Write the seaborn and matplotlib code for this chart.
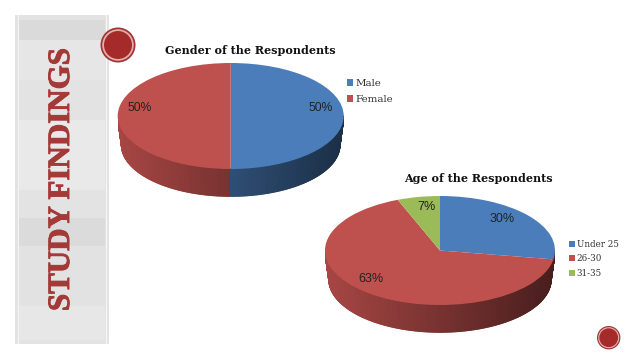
import numpy as np
import seaborn as sns
import matplotlib.pyplot as plt
import matplotlib.patheffects as pe
from matplotlib.collections import PolyCollection
from matplotlib.patches import Circle, Rectangle

# values
gender_labels = ['Male', 'Female']
gender_shares = [50, 50]
gender_pct = ['50%', '50%']

age_labels = ['Under 25', '26-30', '31-35']
# slice sizes as they look in the picture, the printed labels are in age_pct
age_shares = [27.6, 66.4, 6.0]
age_pct = ['30%', '63%', '7%']

W, H = 638, 359
sns.set_theme(style='white')
plt.rcParams['font.family'] = ['DejaVu Serif']
palette = sns.color_palette(['#4a7dba', '#be504d', '#9bbb59'])

fig = plt.figure(figsize=(W / 100, H / 100), dpi=100, facecolor='white')

# background in pixel coords
bg = fig.add_axes([0, 0, 1, 1])
bg.set_xlim(0, W)
bg.set_ylim(H, 0)
bg.axis('off')

bg.add_patch(Rectangle((15, 15), 94, 329, color='#e3e3e3', lw=0))
for y0, h, c in [(20, 20, '#dadada'), (40, 40, '#e6e6e6'), (120, 70, '#e9e9e9'),
                 (218, 28, '#dbdbdb'), (246, 60, '#e2e2e2'), (306, 34, '#e7e7e7')]:
    bg.add_patch(Rectangle((19, y0), 86, h, color=c, lw=0))
bg.add_patch(Rectangle((105.5, 15), 1, 329, color='#f7f7f7', lw=0))
bg.add_patch(Rectangle((17.5, 15), 1, 329, color='#f4f4f4', lw=0))
bg.text(61.5, 179.5, 'STUDY FINDINGS', rotation=90, ha='center', va='center',
        family='Liberation Serif', weight='bold', fontsize=22.3, color='#a33a38',
        path_effects=[pe.withStroke(linewidth=0.7, foreground='#a33a38')])


def seal(x, y, r):
    bg.add_patch(Circle((x, y), r, color='#a03434', lw=0))
    bg.add_patch(Circle((x, y), r * 0.9, color='#e2b0ac', lw=0))
    bg.add_patch(Circle((x, y), r * 0.8, color='#a52b2b', lw=0))


seal(118, 45, 17.5)
seal(608.7, 337.7, 11.7)


def pie3d(shares, cx, cy, rx, ry, depth, hide_first=False):
    bottom = depth + ry
    ax = fig.add_axes([(cx - rx) / W, 1 - (cy + bottom + 1) / H, 2 * rx / W, (ry + bottom + 1) / H])
    wedges, _ = ax.pie(shares, colors=palette, startangle=90, counterclock=False,
                       radius=1, wedgeprops={'linewidth': 0})
    ax.set_aspect('auto')
    ax.set_xlim(-1, 1)
    ax.set_ylim(-(bottom + 1) / ry, 1)

    # side wall, thin quads shaded from left to right
    edges = np.cumsum(shares) / np.sum(shares) * 360
    t = np.linspace(180, 360, 241)
    quads, cols = [], []
    scale = 0.965
    for a, b in zip(t[:-1], t[1:]):
        ra, rb = np.radians(a), np.radians(b)
        xa, xb = np.cos(ra), np.cos(rb)
        ya, yb = np.sin(ra), np.sin(rb)
        off = depth / ry
        quads.append([(xa, ya), (xb, yb), (xb * scale, yb * scale - off), (xa * scale, ya * scale - off)])
        clock = (90 - (a + b) / 2) % 360
        idx = int(np.searchsorted(edges, clock))
        # the sliver of the first slice is not seen on the wall in the age pie
        if hide_first and idx == 0:
            idx = 1
        f = 0.88 - 0.5 * ((xa + xb) / 2 + 1) / 2
        cols.append(tuple(np.array(palette[idx]) * f))
    # wide edges so the strips overlap and leave no seams
    ax.add_collection(PolyCollection(quads, facecolors=cols, edgecolors=cols, linewidths=1.0, zorder=0))
    return ax, wedges


ax1, w1 = pie3d(gender_shares, 230.7, 116, 113, 53, 29)
ax2, w2 = pie3d(age_shares, 440, 250.5, 115, 54.5, 29, hide_first=True)

bg.text(250.5, 50, 'Gender of the Respondents', ha='center', va='center',
        weight='bold', fontsize=8, color='#111111')
bg.text(478, 179, 'Age of the Respondents', ha='center', va='center',
        weight='bold', fontsize=8, color='#111111')

for (x, y), s in zip([(321, 108), (139.5, 108)], gender_pct):
    bg.text(x, y, s, ha='center', va='center', fontsize=8.7, color='#222222',
            family='Liberation Sans', zorder=5)
bg.set_zorder(3)
bg.patch.set_alpha(0)
for (x, y), s in zip([(501.7, 219), (370.7, 279), (426.7, 207)], age_pct):
    bg.text(x, y, s, ha='center', va='center', fontsize=9, color='#222222',
            family='Liberation Sans', zorder=5)

fig.legend(w1, gender_labels, loc='upper left', bbox_to_anchor=(339 / W, 1 - 71 / H), frameon=False,
           fontsize=7.4, handlelength=0.6, handleheight=0.6, handletextpad=0.2,
           labelspacing=0.66, labelcolor='#333333', borderpad=0.3)
fig.legend(w2, age_labels, loc='upper left', bbox_to_anchor=(561.5 / W, 1 - 233 / H), frameon=False,
           fontsize=6.3, handlelength=0.7, handleheight=0.7, handletextpad=0.25,
           labelspacing=0.62, labelcolor='#333333', borderpad=0.3)

fig.savefig('out.png', dpi=100)
